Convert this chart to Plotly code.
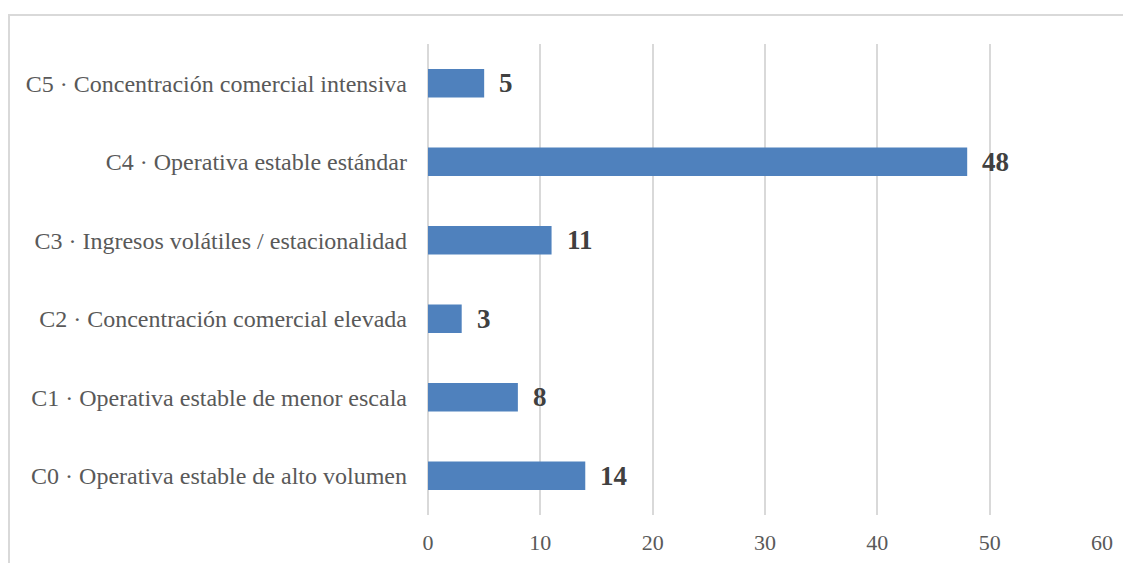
import plotly.graph_objects as go

categories = [
    "C0 · Operativa estable de alto volumen",
    "C1 · Operativa estable de menor escala",
    "C2 · Concentración comercial elevada",
    "C3 · Ingresos volátiles / estacionalidad",
    "C4 · Operativa estable estándar",
    "C5 · Concentración comercial intensiva",
]
values = [14, 8, 3, 11, 48, 5]
x_ticks = [0, 10, 20, 30, 40, 50, 60]

# page has an 8px body margin; figure is sized to fit the window
W, H = 1123, 555
L, R, T, B = 420, 29, 36, 48
pw, ph = W - L - R, H - T - B

fig = go.Figure()
fig.add_trace(go.Bar(
    y=categories, x=values, orientation="h",
    marker=dict(color="#4F81BD", line=dict(width=0)),
    width=0.36, hoverinfo="x+y",
))

for c, v in zip(categories, values):
    fig.add_annotation(
        x=v, y=c, text=f"<b>{v}</b>", showarrow=False,
        xanchor="left", xshift=13,
        font=dict(family="Liberation Serif", size=27, color="#404040"),
    )

def px_x(p):
    return (p - L) / pw

def px_y(p):
    return (H - B - p) / ph

fig.add_shape(
    type="rect", xref="paper", yref="paper",
    x0=px_x(1), x1=px_x(W + 10), y0=px_y(H + 10), y1=px_y(7),
    line=dict(color="#D9D9D9", width=2), fillcolor="rgba(0,0,0,0)", layer="below",
)

fig.update_layout(
    width=W, height=H,
    margin=dict(l=L, r=R, t=T, b=B, autoexpand=False),
    paper_bgcolor="white", plot_bgcolor="white",
    showlegend=False,
    font=dict(family="Liberation Serif", size=19, color="#595959"),
    xaxis=dict(
        range=[0, 60], tickvals=x_ticks, showgrid=True, automargin=False,
        gridcolor="#D9D9D9", gridwidth=1.5,
        zeroline=True, zerolinecolor="#D9D9D9", zerolinewidth=1.5,
        showline=False, ticks="", ticklabelstandoff=12,
        tickfont=dict(size=22, color="#595959"),
    ),
    yaxis=dict(
        categoryorder="array", categoryarray=categories, automargin=False,
        showgrid=False, zeroline=False, showline=False, ticks="",
        ticklabelstandoff=20,
        tickfont=dict(size=24, color="#595959"),
    ),
)

fig.write_html("out.html")
